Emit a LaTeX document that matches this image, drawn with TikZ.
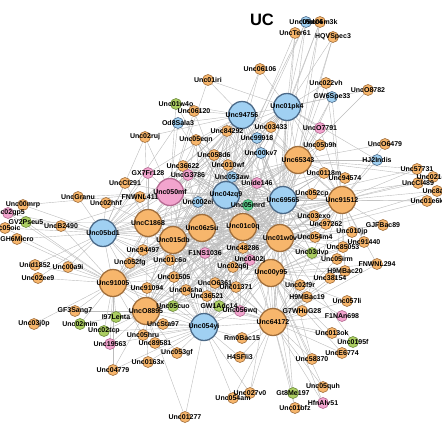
\documentclass[tikz,border=0pt]{standalone}
\usepackage{fontspec}
\newfontfamily\lblfont{Liberation Sans}
\definecolor{ornfill}{RGB}{247,182,108}
\definecolor{ornline}{RGB}{160,110,60}
\definecolor{blufill}{RGB}{160,208,242}
\definecolor{bluline}{RGB}{75,105,135}
\definecolor{pnkfill}{RGB}{242,164,206}
\definecolor{pnkline}{RGB}{180,105,145}
\definecolor{grnfill}{RGB}{172,206,98}
\definecolor{grnline}{RGB}{110,140,60}
\definecolor{mntfill}{RGB}{92,204,140}
\definecolor{mntline}{RGB}{50,140,90}
\definecolor{linkgray}{RGB}{188,188,188}

\pgfdeclarelayer{back}
\pgfdeclarelayer{front}
\pgfsetlayers{back,main,front}

\tikzset{
	base/.style={circle, inner sep=0pt, minimum size=11pt, line width=0.6pt},
	orn/.style={base, draw=ornline, fill=ornfill},
	blu/.style={base, draw=bluline, fill=blufill},
	pnk/.style={base, draw=pnkline, fill=pnkfill},
	grn/.style={base, draw=grnline, fill=grnfill},
	mnt/.style={base, draw=mntline, fill=mntfill},
	hub/.style={minimum size=27pt, line width=1.3pt},
	lbl/.style={inner sep=0pt, font=\lblfont\bfseries\fontsize{7}{8}\selectfont},
	link/.style={draw=linkgray, line width=0.4pt}
}

\newcommand{\gnode}[3]{%
	\node[#1] (#2) at (#3) {};
	\begin{pgfonlayer}{front}\node[lbl] (#2-t) at (#3) {#2};\end{pgfonlayer}}

\newcommand{\hublist}{Unc01pk4,Unc94756,Unc65343,Unc91512,Unc69565,Unc04zq9,Unc050mf,Unc05bd1,UncC1868,Unc015db,Unc06z5u,Unc01c0q,Unc01w0v,Unc00y95,Unc91005,UncO8895,Unc054yi,Unc64172}
\newcommand{\corelist}{Unc058d6,Unc010wf,Unc36622,UncG3786,Unc053aw,Unide146,Unc002ei,Unc05mrd,Unc94497,Unc48286,F1NS1036,Unc0402j,Unc01c6o,Unc052fg,Unc02q6j,Unc01505,UncO6361,Unc01371,Unc91094,Unc04sha,Unc36521,Unc05cuo,GW1Adc14,Unc056wq,Unc03exo,Unc97262,Unc054m4,Unc03dvp,Unc052cp,Unc0118m,Unc00kv7,Unc99918,Unc84292,Unc05eqn}

\begin{document}
\begin{tikzpicture}[x=1pt, y=-1pt]
	\useasboundingbox (0,0) rectangle (442,426);
	\node[font=\lblfont\bfseries\fontsize{16.5}{19}\selectfont] (title) at (262,20) {UC};

	\gnode{blu,hub}{Unc01pk4}{287,107}
	\gnode{blu,hub}{Unc94756}{242,115}
	\gnode{orn,hub}{Unc65343}{298,160}
	\gnode{orn,hub}{Unc91512}{342,200}
	\gnode{blu,hub}{Unc69565}{283,200}
	\gnode{blu,hub}{Unc04zq9}{226,195}
	\gnode{pnk,hub}{Unc050mf}{170,192}
	\gnode{blu,hub}{Unc05bd1}{103,233}
	\gnode{orn,hub}{UncC1868}{148,223}
	\gnode{orn,hub}{Unc015db}{173,240}
	\gnode{orn,hub}{Unc06z5u}{202,228}
	\gnode{orn,hub}{Unc01c0q}{243,227}
	\gnode{orn,hub}{Unc01w0v}{280,238}
	\gnode{orn,hub}{Unc00y95}{271,273}
	\gnode{orn,hub}{Unc91005}{113,283}
	\gnode{orn,hub}{UncO8895}{146,311}
	\gnode{blu,hub}{Unc054yi}{204,327}
	\gnode{orn,hub}{Unc64172}{273,322}

	\gnode{blu}{Unc05dc4}{306,22}
	\gnode{orn}{Unc06m3k}{320,22}
	\gnode{orn}{UncTer61}{295,33}
	\gnode{orn}{HQVSpec3}{333,37}
	\gnode{orn}{Unc06106}{260,69}
	\gnode{orn}{Unc01iri}{208,80}
	\gnode{orn}{Unc022vh}{326,83}
	\gnode{blu}{GW6Spe33}{332,97}
	\gnode{orn}{UncO8782}{368,90}
	\gnode{grn}{Unc01w4o}{176,104}
	\gnode{orn}{Unc06120}{194,111}
	\gnode{blu}{Od8Sala3}{178,123}
	\gnode{orn}{Unc84292}{227,131}
	\gnode{orn}{Unc03433}{271,127}
	\gnode{blu}{Unc99918}{257,138}
	\gnode{pnk}{UncO7791}{320,128}
	\gnode{orn}{Unc02ruj}{145,137}
	\gnode{orn}{Unc05eqn}{196,140}
	\gnode{orn}{UncO6479}{385,144}
	\gnode{orn}{Unc05b9h}{320,145}
	\gnode{blu}{Unc00kv7}{261,153}
	\gnode{orn}{Unc058d6}{214,155}
	\gnode{blu}{HJ2Indis}{377,160}
	\gnode{orn}{Unc010wf}{228,165}
	\gnode{orn}{Unc36622}{183,166}
	\gnode{pnk}{GX7Fr128}{148,173}
	\gnode{orn}{Unc0118m}{324,173}
	\gnode{orn}{Unc94574}{345,178}
	\gnode{pnk}{UncG3786}{188,175}
	\gnode{blu}{Unc053aw}{232,177}
	\gnode{pnk}{Unide146}{257,183}
	\gnode{orn}{UncCI291}{125,183}
	\gnode{orn}{Unc57731}{417,169}
	\gnode{orn}{Unc021e8}{433,177}
	\gnode{orn}{UncCl489}{418,183}
	\gnode{orn}{Unc8a15}{437,191}
	\gnode{orn}{Unc01e6k}{427,201}
	\gnode{orn}{Unc052cp}{312,194}
	\gnode{orn}{FNWNL411}{140,197}
	\gnode{orn}{UncGranu}{78,197}
	\gnode{orn}{Unc02hhf}{106,203}
	\gnode{blu}{Unc002ei}{198,202}
	\gnode{mnt}{Unc05mrd}{248,205}
	\gnode{orn}{Unc00mrp}{23,205}
	\gnode{pnk}{Unc02gp5}{8,213}
	\gnode{grn}{GV2Pseu5}{26,222}
	\gnode{orn}{Unc05oic}{5,228}
	\gnode{orn}{UncB2490}{61,226}
	\gnode{orn}{GH6Micro}{17,239}
	\gnode{orn}{Unc03exo}{314,216}
	\gnode{orn}{Unc97262}{326,224}
	\gnode{orn}{GJFBac89}{383,225}
	\gnode{orn}{Unc010jp}{352,232}
	\gnode{orn}{Unc054m4}{315,237}
	\gnode{orn}{Unc91440}{364,242}
	\gnode{orn}{Unc94497}{143,250}
	\gnode{orn}{Unc48286}{243,248}
	\gnode{orn}{Unc85053}{343,247}
	\gnode{pnk}{F1NS1036}{205,253}
	\gnode{grn}{Unc03dvp}{312,253}
	\gnode{pnk}{Unc0402j}{250,260}
	\gnode{orn}{Unc05irm}{337,259}
	\gnode{orn}{Unc01c6o}{170,260}
	\gnode{orn}{Unc052fg}{130,263}
	\gnode{orn}{FNWNL294}{377,264}
	\gnode{orn}{Unid1852}{35,265}
	\gnode{orn}{Unc00a9i}{68,267}
	\gnode{orn}{Unc02q6j}{233,267}
	\gnode{orn}{H9MBac20}{345,271}
	\gnode{orn}{Unc01505}{174,277}
	\gnode{orn}{Unc38154}{330,278}
	\gnode{orn}{Unc02ee9}{38,278}
	\gnode{orn}{UncO6361}{215,283}
	\gnode{orn}{Unc02f9r}{300,285}
	\gnode{orn}{Unc01371}{236,287}
	\gnode{orn}{Unc91094}{147,288}
	\gnode{orn}{Unc04sha}{186,290}
	\gnode{orn}{Unc36521}{207,296}
	\gnode{orn}{H9MBac19}{307,297}
	\gnode{orn}{Unc057li}{347,301}
	\gnode{grn}{Unc05cuo}{173,306}
	\gnode{grn}{GW1Adc14}{219,306}
	\gnode{orn}{GF3Sang7}{75,311}
	\gnode{orn}{G7WHuG28}{302,311}
	\gnode{pnk}{Unc056wq}{240,311}
	\gnode{pnk}{F1NAn698}{342,316}
	\gnode{grn}{I97Lenta}{116,317}
	\gnode{grn}{Unc02mim}{80,324}
	\gnode{orn}{Unc03j0p}{34,324}
	\gnode{orn}{UncSta97}{163,324}
	\gnode{grn}{Unc02tcp}{104,331}
	\gnode{orn}{Unc013ok}{332,333}
	\gnode{orn}{Unc05hru}{143,335}
	\gnode{orn}{Rm0Bac15}{242,338}
	\gnode{grn}{Unc0195f}{353,342}
	\gnode{orn}{Unc89581}{155,343}
	\gnode{pnk}{Unc19563}{110,344}
	\gnode{orn}{UncE6774}{342,353}
	\gnode{orn}{Unc053gf}{177,353}
	\gnode{orn}{H4SFli3}{240,357}
	\gnode{orn}{Unc58370}{312,359}
	\gnode{orn}{Unc0163x}{148,362}
	\gnode{orn}{Unc04779}{113,370}
	\gnode{orn}{Unc05quh}{323,387}
	\gnode{orn}{Unc027v0}{250,393}
	\gnode{grn}{Gt8Me197}{293,393}
	\gnode{orn}{Unc054am}{233,398}
	\gnode{pnk}{HfnAlv51}{323,403}
	\gnode{orn}{Unc01bfz}{295,408}
	\gnode{orn}{Unc01277}{185,417}

	\begin{pgfonlayer}{back}
		\foreach \ha [count=\i] in \hublist {
			\foreach \hb [count=\j] in \hublist {
				\ifnum\j>\i \draw[link] (\ha) -- (\hb); \fi
			}
		}
		\foreach \cn in \corelist {
			\foreach \hb in {Unc04zq9,Unc69565,Unc01c0q,Unc06z5u,Unc015db,Unc01w0v} {\draw[link] (\cn) -- (\hb);}
		}
		\foreach \src/\dsts in {
			Unc05dc4/{Unc01pk4,Unc69565,Unc04zq9,Unc06z5u}, Unc06m3k/{Unc01pk4,Unc69565,Unc01c0q,Unc65343},
			UncTer61/{Unc01pk4,Unc04zq9,Unc69565}, HQVSpec3/{Unc01pk4,Unc65343,Unc69565},
			Unc06106/{Unc01pk4,Unc94756,Unc04zq9}, Unc01iri/{Unc94756,Unc01pk4,Unc050mf},
			Unc022vh/{Unc01pk4,Unc65343,Unc91512}, GW6Spe33/{Unc01pk4,Unc65343,Unc91512,Unc69565},
			UncO8782/{Unc01pk4,Unc65343}, Unc01w4o/{Unc94756,Unc04zq9,Unc050mf},
			Unc06120/{Unc94756,Unc050mf,Unc04zq9}, Od8Sala3/{Unc94756,Unc050mf,Unc04zq9,Unc05bd1},
			Unc84292/{Unc94756,Unc01pk4,Unc04zq9,Unc06z5u}, Unc03433/{Unc01pk4,Unc94756,Unc69565,Unc65343},
			Unc99918/{Unc01pk4,Unc94756,Unc69565,Unc04zq9}, UncO7791/{Unc01pk4,Unc65343,Unc91512,Unc69565},
			Unc02ruj/{Unc94756,Unc05bd1,Unc050mf,UncC1868}, Unc05eqn/{Unc94756,Unc050mf,Unc04zq9},
			UncO6479/{Unc65343,Unc91512}, Unc05b9h/{Unc65343,Unc01pk4,Unc69565},
			Unc00kv7/{Unc01pk4,Unc94756,Unc69565,Unc04zq9}, Unc058d6/{Unc94756,Unc04zq9,Unc050mf,Unc06z5u},
			HJ2Indis/{Unc65343,Unc91512,Unc01pk4}, Unc010wf/{Unc94756,Unc04zq9,Unc69565},
			Unc36622/{Unc050mf,Unc94756,Unc04zq9}, GX7Fr128/{Unc050mf,Unc05bd1,UncC1868,Unc94756},
			Unc0118m/{Unc65343,Unc91512,Unc69565}, Unc94574/{Unc65343,Unc91512},
			UncG3786/{Unc050mf,Unc04zq9,Unc94756}, Unc053aw/{Unc04zq9,Unc69565,Unc94756},
			Unide146/{Unc69565,Unc04zq9,Unc65343}, UncCI291/{Unc050mf,Unc05bd1,UncC1868},
			Unc57731/{Unc91512,Unc65343,Unc69565}, Unc021e8/{Unc91512,Unc65343},
			UncCl489/{Unc91512,Unc69565}, Unc8a15/{Unc91512,Unc01w0v},
			Unc01e6k/{Unc91512,Unc69565,Unc01w0v}, Unc052cp/{Unc69565,Unc91512,Unc65343},
			FNWNL411/{Unc050mf,Unc05bd1,UncC1868,Unc04zq9}, UncGranu/{Unc05bd1,Unc050mf},
			Unc02hhf/{Unc05bd1,Unc050mf,UncC1868}, Unc002ei/{Unc04zq9,Unc050mf,Unc06z5u},
			Unc05mrd/{Unc04zq9,Unc69565,Unc01c0q}, Unc00mrp/{Unc05bd1,Unc050mf},
			Unc02gp5/{Unc05bd1,Unc91005}, GV2Pseu5/{Unc05bd1,UncC1868,Unc91005},
			Unc05oic/{Unc05bd1,Unc91005}, UncB2490/{Unc05bd1,Unc050mf,Unc91005},
			GH6Micro/{Unc05bd1,Unc91005}, Unc03exo/{Unc91512,Unc69565,Unc01w0v},
			Unc97262/{Unc91512,Unc01w0v,Unc69565}, GJFBac89/{Unc91512,Unc01w0v},
			Unc010jp/{Unc91512,Unc01w0v,Unc00y95}, Unc054m4/{Unc01w0v,Unc91512,Unc69565},
			Unc91440/{Unc91512,Unc00y95,Unc01w0v}, Unc94497/{UncC1868,Unc05bd1,Unc015db},
			Unc48286/{Unc01c0q,Unc01w0v,Unc00y95}, Unc85053/{Unc91512,Unc00y95,Unc01w0v},
			F1NS1036/{Unc06z5u,Unc01c0q,Unc015db}, Unc03dvp/{Unc01w0v,Unc00y95,Unc69565},
			Unc0402j/{Unc01c0q,Unc00y95,Unc01w0v}, Unc05irm/{Unc91512,Unc00y95,Unc64172},
			Unc01c6o/{Unc015db,UncC1868,UncO8895}, Unc052fg/{Unc05bd1,Unc91005,UncC1868},
			FNWNL294/{Unc91512,Unc64172,Unc00y95}, Unid1852/{Unc05bd1,Unc91005},
			Unc00a9i/{Unc05bd1,Unc91005}, Unc02q6j/{Unc01c0q,Unc00y95,Unc054yi},
			H9MBac20/{Unc91512,Unc00y95,Unc64172}, Unc01505/{Unc015db,UncO8895,Unc054yi},
			Unc38154/{Unc00y95,Unc64172,Unc01w0v}, Unc02ee9/{Unc91005,Unc05bd1},
			UncO6361/{Unc054yi,Unc01c0q,Unc06z5u}, Unc02f9r/{Unc00y95,Unc64172,Unc01w0v},
			Unc01371/{Unc00y95,Unc054yi,Unc01c0q}, Unc91094/{Unc91005,UncO8895,Unc015db},
			Unc04sha/{Unc054yi,UncO8895,Unc015db}, Unc36521/{Unc054yi,Unc06z5u,UncO8895},
			H9MBac19/{Unc64172,Unc00y95,Unc91512}, Unc057li/{Unc64172,Unc00y95},
			Unc05cuo/{Unc054yi,UncO8895,Unc91005}, GW1Adc14/{Unc054yi,Unc64172,Unc01c0q},
			GF3Sang7/{Unc91005,UncO8895}, G7WHuG28/{Unc64172,Unc00y95,Unc01w0v},
			Unc056wq/{Unc64172,Unc054yi,Unc00y95}, F1NAn698/{Unc64172,Unc00y95},
			I97Lenta/{Unc91005,UncO8895,Unc054yi}, Unc02mim/{Unc91005,UncO8895},
			Unc03j0p/{Unc91005}, UncSta97/{UncO8895,Unc054yi},
			Unc02tcp/{Unc91005,UncO8895,Unc054yi}, Unc013ok/{Unc64172,Unc00y95},
			Unc05hru/{UncO8895,Unc054yi,Unc91005}, Rm0Bac15/{Unc054yi,Unc64172},
			Unc0195f/{Unc64172,Unc01w0v}, Unc89581/{UncO8895,Unc054yi},
			UncE6774/{Unc64172,Unc00y95}, Unc053gf/{Unc054yi,UncO8895},
			H4SFli3/{Unc054yi,Unc64172}, Unc58370/{Unc64172,Unc00y95,Unc01w0v},
			Unc0163x/{UncO8895,Unc054yi}, Unc04779/{Unc91005,UncO8895,Unc054yi},
			Unc19563/{Unc91005,UncO8895,Unc054yi}, Unc05quh/{Unc64172,Unc00y95},
			Unc027v0/{Unc054yi,Unc64172,Unc00y95}, Gt8Me197/{Unc64172,Unc01w0v},
			Unc054am/{Unc054yi,Unc64172}, HfnAlv51/{Unc64172,Unc00y95},
			Unc01bfz/{Unc64172,Unc00y95}, Unc01277/{Unc054yi,UncO8895}} {
			\foreach \dst in \dsts {\draw[link] (\src) -- (\dst);}
		}
	\end{pgfonlayer}
\end{tikzpicture}
\end{document}
